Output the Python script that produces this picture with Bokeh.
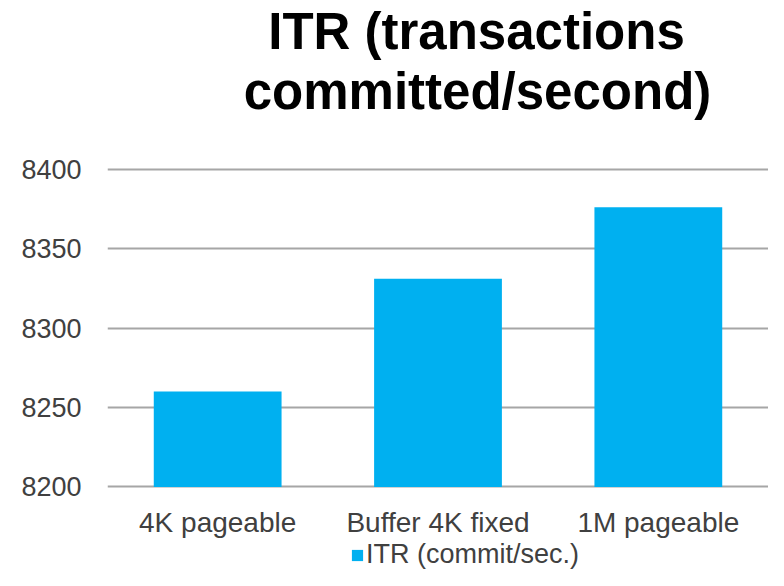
from bokeh.plotting import figure
from bokeh.layouts import column
from bokeh.core.properties import value
from bokeh.models import Range1d, FactorRange, FixedTicker, Legend, LegendItem, ColumnDataSource
from bokeh.embed import file_html
from bokeh.resources import INLINE

categories = ["4K pageable", "Buffer 4K fixed", "1M pageable"]
itr_values = [8260, 8331, 8376]
y_ticks = [8200, 8250, 8300, 8350, 8400]
series_name = "ITR (commit/sec.)"
title_lines = ["ITR (transactions", "committed/second)"]

FONT = "Liberation Sans"
BAR_COLOR = "#00B0F0"
W = 768
FRAME_LEFT = 107
TITLE_H = 151
MAIN_H = 389
LEG_H = 30
TEXT_SHIFT = 19  # compensates the text glyph's downward placement at this size

src = ColumnDataSource(dict(cat=categories, val=itr_values))

# ---- title strip (two centred lines, like the chart title) ----
tp = figure(width=W, height=TITLE_H, output_backend="svg", toolbar_location=None,
            x_range=Range1d(FRAME_LEFT, W), y_range=Range1d(0, TITLE_H),
            x_axis_location=None, y_axis_location=None,
            min_border_left=0, min_border_right=0, min_border_top=0, min_border_bottom=0)
tp.title = None
tp.outline_line_color = None
tp.grid.visible = False
title_src = ColumnDataSource(dict(t=title_lines,
                                  x=[476, 477],
                                  y=[TITLE_H - 50 + TEXT_SHIFT, TITLE_H - 110 + TEXT_SHIFT]))
tp.text(x="x", y="y", text="t", source=title_src, text_font=value(FONT),
        text_font_size=value("51px"), text_font_style="bold", text_color="#000000",
        text_align="center", text_baseline="alphabetic")

# ---- main bar chart ----
p = figure(width=W, height=MAIN_H, output_backend="svg", toolbar_location=None,
           x_range=FactorRange(*categories, range_padding=0, start=0, end=2.938),
           y_range=Range1d(8199, 8401),
           min_border_left=FRAME_LEFT, min_border_right=0, min_border_top=16, min_border_bottom=52)
p.title = None
p.outline_line_color = None

r = p.vbar(x="cat", top="val", bottom=8200, width=0.58, source=src,
           fill_color=BAR_COLOR, line_color=None)

p.xgrid.grid_line_color = None
p.ygrid.ticker = FixedTicker(ticks=y_ticks)
p.ygrid.grid_line_color = "#A6A6A6"
p.ygrid.grid_line_width = 2

p.yaxis.ticker = FixedTicker(ticks=y_ticks)
p.yaxis.axis_line_color = None
p.yaxis.major_tick_line_color = None
p.yaxis.minor_tick_line_color = None
p.yaxis.major_label_text_font = FONT
p.yaxis.major_label_text_font_size = "27px"
p.yaxis.major_label_text_color = "#404040"
p.yaxis.major_label_standoff = 20

p.xaxis.axis_line_color = None
p.xaxis.major_tick_line_color = None
p.xaxis.minor_tick_line_color = None
p.xaxis.major_label_text_font = FONT
p.xaxis.major_label_text_font_size = "28px"
p.xaxis.major_label_text_color = "#404040"
p.xaxis.major_label_standoff = 12

# ---- legend strip below the chart (its bars lie far outside its visible ranges) ----
lg = figure(width=W, height=LEG_H, output_backend="svg", toolbar_location=None,
            x_range=FactorRange(*categories, start=100, end=101),
            y_range=Range1d(100000, 100001),
            x_axis_location=None, y_axis_location=None,
            min_border_left=0, min_border_right=0, min_border_top=0, min_border_bottom=0)
lg.title = None
lg.outline_line_color = None
lg.grid.visible = False
r2 = lg.vbar(x="cat", top="val", bottom=8200, width=0.58, source=src,
             fill_color=BAR_COLOR, line_color=None)

legend = Legend(items=[LegendItem(label=series_name, renderers=[r2])],
                location=(243, 0), orientation="horizontal",
                label_text_font=FONT, label_text_font_size="27px", label_text_color="#404040",
                glyph_width=14, glyph_height=14, label_standoff=2,
                padding=0, margin=0, border_line_color=None, background_fill_alpha=0)
lg.add_layout(legend, "center")

layout = column(tp, p, lg, spacing=0)
open("out.html", "w").write(file_html(layout, INLINE))
